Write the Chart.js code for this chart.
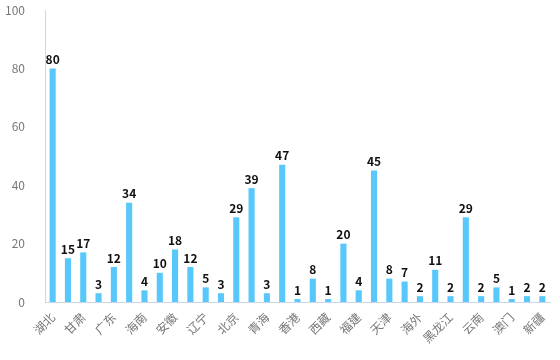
<!DOCTYPE html>
<html>
<head>
<meta charset="utf-8">
<script src="https://cdn.jsdelivr.net/npm/chart.js@4"></script>
<style>
  html, body { margin: 0; padding: 0; background: #fff; }
  #wrap { width: 560px; height: 360px; }
</style>
</head>
<body>
<div id="wrap"><canvas id="regionChart"></canvas></div>
<script>
/* ================= DATA ================= */
const regions = ['湖北','四川','甘肃','浙江','广东','上海','海南','江苏','安徽','山东',
  '辽宁','河南','北京','湖南','青海','重庆','香港','江西','西藏','陕西',
  '福建','山西','天津','河北','海外','吉林','黑龙江','贵州','云南','内蒙古',
  '澳门','宁夏','新疆'];
const counts = [80,15,17,3,12,34,4,10,18,12,5,3,29,39,3,47,1,8,1,20,4,45,8,7,2,11,2,29,2,5,1,2,2];
const yTicks = [0,20,40,60,80,100];

const FONT = '"Noto Sans CJK SC", "Noto Sans", sans-serif';

/* ================= VALUE LABELS ================= */
const valueLabels = {
  id: 'valueLabels',
  afterDatasetsDraw(chart) {
    const ctx = chart.ctx;
    const meta = chart.getDatasetMeta(0);
    ctx.save();
    ctx.font = 'bold 12px ' + FONT;
    ctx.fillStyle = '#111';
    ctx.textAlign = 'center';
    ctx.textBaseline = 'bottom';
    meta.data.forEach((bar, i) => {
      ctx.fillText(String(counts[i]), bar.x, bar.y - 3);
    });
    ctx.restore();
  }
};

/* ================= CHART ================= */
new Chart(document.getElementById('regionChart'), {
  type: 'bar',
  data: {
    labels: regions,
    datasets: [{
      data: counts,
      backgroundColor: '#58c8fa',
      barPercentage: 0.4,
      categoryPercentage: 1
    }]
  },
  options: {
    responsive: true,
    maintainAspectRatio: false,
    animation: false,
    layout: { padding: { top: 10, right: 10, left: 0, bottom: 0 } },
    plugins: {
      legend: { display: false },
      tooltip: { enabled: false }
    },
    scales: {
      x: {
        grid: { display: false },
        border: { display: true, color: '#ccd6eb' },
        afterFit: s => { s.height = 58; s.paddingLeft = 0; s.paddingRight = 0; },
        ticks: {
          autoSkip: false,
          maxRotation: 45,
          minRotation: 45,
          padding: 0,
          color: '#777',
          font: { family: FONT, size: 12 },
          callback: (v, i) => (i % 2 === 0 ? regions[i] : '')
        }
      },
      y: {
        min: 0,
        max: 100,
        afterFit: s => { s.width = 45; s.paddingTop = 0; s.paddingBottom = 0; },
        afterBuildTicks: s => { s.ticks = yTicks.map(v => ({ value: v })); },
        grid: { display: false },
        border: { display: true, color: '#ccd6eb' },
        ticks: {
          padding: 12,
          color: '#777',
          font: { family: FONT, size: 12 }
        }
      }
    }
  },
  plugins: [valueLabels]
});
</script>
</body>
</html>
